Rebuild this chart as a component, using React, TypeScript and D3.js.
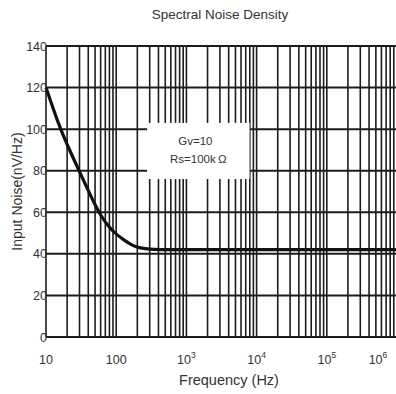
import { useEffect, useRef } from "react";
import * as d3 from "d3";

// curve
const freq = [10, 15, 20, 30, 40, 50, 60, 80, 100, 130, 170, 220, 300, 500, 1000, 1e4, 1e5, 1e6];
const noise = [120, 102.5, 92.5, 79.5, 70.5, 63.5, 58.5, 52.5, 49.5, 46.5, 44, 42.8, 42.2, 42, 42, 42, 42, 42];

const yTicks = [0, 20, 40, 60, 80, 100, 120, 140];
const decades = [10, 100, 1000, 1e4, 1e5, 1e6];
const xTickExp = ["10", "100", "3", "4", "5", "6"];

export default function App() {
    const ref = useRef<HTMLDivElement>(null);

    useEffect(() => {
        const width = 396;
        const height = 394;
        const margin = { top: 46, right: -1, bottom: 57, left: 46 };

        const x = d3.scaleLog([10, 1e6], [margin.left, width - margin.right]);
        const y = d3.scaleLinear([0, 140], [height - margin.bottom, margin.top]);

        const svg = d3.select(ref.current)
            .append("svg")
            .attr("width", width)
            .attr("height", height)
            .style("display", "block")
            .style("font-family", "'Liberation Sans', Arial, sans-serif");

        const grid = svg.append("g").attr("stroke", "#1c1c1c");

        // vertical grid: every 1..9 inside each decade
        const minor: number[] = [];
        for (let d = 10; d < 1e6; d *= 10) {
            for (let k = 1; k <= 9; k++) minor.push(d * k);
        }
        minor.push(1e6);
        grid.selectAll("line.v")
            .data(minor)
            .join("line")
            .attr("class", "v")
            .attr("x1", d => x(d))
            .attr("x2", d => x(d))
            .attr("y1", y(0))
            .attr("y2", y(140))
            .attr("stroke-width", 1.6);

        grid.selectAll("line.h")
            .data(yTicks)
            .join("line")
            .attr("class", "h")
            .attr("x1", margin.left)
            .attr("x2", width)
            .attr("y1", d => y(d))
            .attr("y2", d => y(d))
            .attr("stroke-width", 2);

        // annotation box
        const bx0 = x(10 * Math.pow(10, 1.44));
        const bx1 = x(10 * Math.pow(10, 2.9));
        svg.append("rect")
            .attr("x", bx0)
            .attr("y", y(103))
            .attr("width", bx1 - bx0)
            .attr("height", y(76) - y(103))
            .attr("fill", "#fff");
        const bc = (bx0 + bx1) / 2;
        svg.append("text")
            .attr("x", bc - 3)
            .attr("y", y(92.5))
            .attr("text-anchor", "middle")
            .attr("font-size", 11.5)
            .attr("fill", "#333")
            .text("Gv=10");
        svg.append("text")
            .attr("x", bc)
            .attr("y", y(83.5))
            .attr("text-anchor", "middle")
            .attr("font-size", 11.5)
            .attr("fill", "#333")
            .text("Rs=100k\u2009\u03A9");

        // noise curve
        const line = d3.line<number>()
            .x((d, i) => x(freq[i]))
            .y(d => y(d))
            .curve(d3.curveBasis);
        svg.append("path")
            .datum(noise)
            .attr("fill", "none")
            .attr("stroke", "#111")
            .attr("stroke-width", 3.2)
            .attr("d", line);

        // y tick labels
        svg.append("g")
            .selectAll("text")
            .data(yTicks)
            .join("text")
            .attr("x", margin.left + 1)
            .attr("y", d => y(d))
            .attr("dy", "0.36em")
            .attr("text-anchor", "end")
            .attr("font-size", 12.5)
            .attr("fill", "#333")
            .text(d => d);

        // x tick labels with superscripts
        const xl = svg.append("g");
        decades.forEach((d, i) => {
            const cx = i === decades.length - 1 ? x(d) - 19 : x(d);
            const t = xl.append("text")
                .attr("x", cx)
                .attr("y", height - 30)
                .attr("text-anchor", "middle")
                .attr("font-size", 12.5)
                .attr("fill", "#333");
            if (i < 2) {
                t.text(xTickExp[i]);
            } else {
                t.append("tspan").text("10");
                t.append("tspan")
                    .attr("dy", -6)
                    .attr("font-size", 8.5)
                    .text(xTickExp[i]);
            }
        });

        // titles
        svg.append("text")
            .attr("x", 220)
            .attr("y", 19)
            .attr("text-anchor", "middle")
            .attr("font-size", 13.5)
            .attr("fill", "#333")
            .text("Spectral Noise Density");

        svg.append("text")
            .attr("x", 229)
            .attr("y", height - 9)
            .attr("text-anchor", "middle")
            .attr("font-size", 14.5)
            .attr("fill", "#333")
            .text("Frequency (Hz)");

        svg.append("text")
            .attr("transform", `translate(22,${(y(0) + y(140)) / 2}) rotate(-90)`)
            .attr("text-anchor", "middle")
            .attr("font-size", 14)
            .attr("fill", "#333")
            .text("Input Noise(nV/Hz)");

        return () => {
            d3.select(ref.current).selectAll("*").remove();
        };
    });

    return (
        <div ref={ref} style={{ position: "absolute", left: 0, top: 0 }} />
    );
}
